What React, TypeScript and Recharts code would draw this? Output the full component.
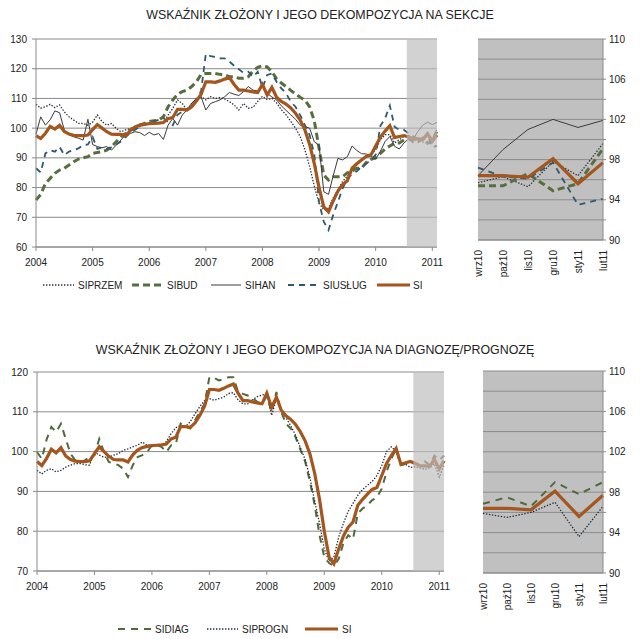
import React from 'react';
import { LineChart, Line, XAxis, YAxis, CartesianGrid, ReferenceArea } from 'recharts';

// ---- Data (monthly, Jan 2004 .. Feb 2011) ----
const YEAR_LABELS = ['2004', '2005', '2006', '2007', '2008', '2009', '2010', '2011'];
const YEAR_TICKS = [0, 12, 24, 36, 48, 60, 72, 84];
const MINI_LABELS = ['wrz10', 'paź10', 'lis10', 'gru10', 'sty11', 'lut11'];

const SI = [
  97.5, 96.5, 98.3, 100.6, 99.7, 101.0, 98.9, 98.0, 97.6, 97.5, 97.5, 97.7,
  99.5, 101.2, 100.0, 98.8, 98.0, 97.9, 97.9, 97.4, 99.2, 100.4, 101.0, 101.3,
  101.5, 101.6, 101.7, 101.9, 103.2, 103.6, 106.3, 106.3, 106.1, 107.2, 109.1, 111.4,
  115.6, 115.6, 115.4, 115.9, 116.5, 117.0, 114.7, 112.8, 112.8, 112.5, 112.2, 112.0,
  114.7, 111.1, 113.7, 110.4, 109.0, 108.1, 106.8, 105.0, 102.7, 99.4, 94.5, 88.0,
  80.0, 73.5, 71.8, 75.5, 78.8, 81.0, 82.3, 86.5, 88.0, 89.3, 90.5, 91.0,
  94.0, 97.0, 99.0, 100.8, 96.8, 97.2, 97.5, 97.0, 96.4, 96.4, 96.25, 98.1,
  95.6, 97.7,
];
const SIPRZEM = [
  108.0, 106.7, 107.2, 108.0, 106.9, 107.8, 105.5, 103.8, 102.7, 101.6, 101.6, 101.0,
  102.0, 104.4, 102.2, 101.0, 101.6, 99.9, 98.8, 99.4, 99.9, 100.5, 100.5, 101.0,
  101.5, 101.8, 101.8, 102.0, 104.4, 106.7, 109.5, 108.3, 106.1, 108.3, 110.0, 110.6,
  109.5, 110.6, 110.0, 110.3, 109.8, 108.9, 107.8, 106.1, 108.3, 106.7, 107.0, 109.0,
  110.7, 109.6, 110.0, 108.5, 106.2, 104.5, 102.3, 100.0, 97.2, 92.7, 87.1, 80.4,
  74.8, 72.5, 73.1, 76.5, 79.3, 82.1, 83.8, 86.0, 88.2, 89.6, 90.5, 91.1,
  92.7, 96.1, 97.8, 97.8, 95.0, 96.1, 97.2, 97.5, 95.7, 96.3, 95.3, 97.8,
  96.4, 99.6,
];
const SIBUD = [
  75.8, 77.7, 81.4, 83.1, 84.8, 85.9, 86.5, 87.6, 88.7, 89.6, 90.0, 90.4,
  91.5, 91.8, 92.1, 92.6, 93.7, 95.4, 97.1, 98.2, 99.4, 99.9, 101.0, 101.6,
  102.2, 102.5, 102.7, 103.8, 107.2, 109.5, 111.4, 112.3, 112.8, 114.0, 115.6, 118.1,
  118.4, 118.4, 118.4, 118.1, 117.9, 117.3, 117.3, 116.8, 116.8, 117.3, 119.2, 120.5,
  121.0, 120.6, 119.0, 116.6, 115.2, 114.0, 112.7, 111.5, 110.4, 109.4, 107.2, 102.4,
  93.2, 84.2, 82.5, 83.6, 83.6, 83.6, 85.0, 85.5, 86.5, 86.5, 88.5, 89.5,
  90.0, 91.5, 93.0, 94.0, 95.0, 95.0, 96.0, 96.5, 95.4, 95.4, 96.6, 94.9,
  95.6, 99.1,
];
const SIHAN = [
  98.0, 103.8, 101.0, 102.8, 105.8, 105.2, 99.4, 97.7, 97.1, 96.6, 96.0, 103.0,
  94.5, 93.8, 93.4, 93.8, 92.6, 94.3, 96.0, 97.7, 98.2, 98.8, 98.5, 97.5,
  98.6, 97.7, 98.2, 96.2, 101.0, 103.3, 101.0, 104.4, 106.1, 108.3, 110.0, 110.5,
  106.1, 108.3, 108.9, 109.5, 110.6, 112.0, 111.4, 111.0, 112.3, 114.0, 112.8, 112.5,
  114.5, 111.7, 110.5, 109.5, 107.5, 106.0, 104.5, 103.0, 101.0, 100.5, 100.0, 95.4,
  94.3, 78.6, 77.7, 84.0, 89.8, 89.3, 90.4, 94.0, 92.5, 91.4, 91.3, 90.5,
  89.6, 92.2, 95.5, 97.2, 93.9, 93.0, 95.0, 96.5, 96.4, 99.0, 101.0, 102.0,
  101.2, 101.9,
];
const SIUSLUG = [
  86.5, 85.1, 91.5, 92.6, 92.1, 93.7, 90.9, 92.1, 92.6, 93.2, 94.3, 94.5,
  97.0, 93.0, 93.5, 93.0, 93.5, 94.5, 95.5, 97.0, 98.5, 99.5, 100.5, 101.2,
  101.5, 102.3, 102.8, 103.4, 102.0, 101.0, 104.5, 105.5, 106.5, 107.5, 109.5, 112.5,
  125.0, 124.2, 124.0, 123.5, 123.5, 122.4, 121.0, 119.8, 118.6, 119.0, 117.3, 119.0,
  113.5, 117.9, 118.4, 115.6, 113.4, 111.7, 108.9, 107.2, 104.4, 101.0, 97.7, 91.0,
  75.0, 68.5, 65.7, 70.8, 75.2, 79.7, 83.1, 84.5, 85.5, 87.0, 88.0, 89.5,
  91.0, 100.8, 103.3, 107.6, 100.5, 99.4, 99.4, 98.2, 97.2, 96.3, 96.1, 97.7,
  93.5, 94.1,
];
const SIDIAG = [
  99.9, 98.2, 103.0, 106.2, 104.9, 107.0, 103.2, 99.5, 97.8, 97.4, 97.8, 98.6,
  99.1, 103.2, 99.9, 97.4, 97.0, 96.6, 95.7, 93.6, 96.6, 98.6, 99.1, 99.9,
  101.6, 101.6, 101.2, 99.9, 101.6, 102.0, 107.0, 106.2, 105.8, 107.9, 110.0, 112.0,
  118.7, 118.5, 117.9, 118.2, 118.7, 118.7, 115.0, 114.5, 114.1, 113.5, 112.5, 112.0,
  114.0, 110.0, 115.0, 110.0, 107.0, 105.8, 103.6, 100.5, 97.5, 92.5, 86.5, 79.0,
  73.5, 72.0, 71.3, 73.0, 77.0, 79.0, 78.0, 84.5, 85.7, 86.5, 87.8, 88.5,
  90.7, 94.9, 98.2, 100.7, 96.6, 97.0, 97.4, 97.0, 96.85, 97.5, 96.6, 99.0,
  97.8, 99.0,
];
const SIPROGN = [
  95.3, 94.4, 95.3, 95.7, 94.9, 95.3, 96.1, 96.6, 97.0, 97.0, 96.7, 96.6,
  99.9, 99.1, 98.6, 98.6, 99.1, 99.5, 100.3, 100.7, 101.2, 101.6, 102.4, 101.6,
  101.6, 101.6, 101.6, 102.5, 104.5, 106.0, 106.6, 106.3, 107.5, 109.5, 111.3, 112.8,
  113.3, 112.9, 113.3, 113.7, 114.6, 114.8, 113.0, 112.0, 112.0, 113.0, 113.8, 114.2,
  114.5, 109.1, 113.3, 110.8, 108.5, 106.5, 104.1, 101.0, 98.0, 93.5, 87.5, 82.0,
  75.5, 72.5, 73.5, 78.5, 82.0, 85.0, 87.0, 89.0, 90.5, 91.5, 92.5, 94.0,
  96.5, 100.0, 101.2, 100.0, 96.6, 96.8, 96.0, 96.2, 95.9, 95.5, 96.0, 97.0,
  93.6, 96.6,
];

const FORECAST_START = 78.6;
const LAST = 85;
const MINI_FROM = 80;

const topData = SI.map((v, i) => ({
  i, SI: v, SIPRZEM: SIPRZEM[i], SIBUD: SIBUD[i], SIHAN: SIHAN[i], SIUSLUG: SIUSLUG[i],
}));
const botData = SI.map((v, i) => ({ i, SI: v, SIDIAG: SIDIAG[i], SIPROGN: SIPROGN[i] }));
const topMini = MINI_LABELS.map((m, k) => ({ m, ...topData[MINI_FROM + k] }));
const botMini = MINI_LABELS.map((m, k) => ({ m, ...botData[MINI_FROM + k] }));

// ---- Styles ----
const FONT = '"Liberation Sans", Arial, sans-serif';
const NARROW = '"Liberation Sans Narrow", "Arial Narrow", "Liberation Sans", Arial, sans-serif';
const AX = '#8a8a8a';
const TXT = '#222';
const C = {
  SI: '#a4561e',
  SIPRZEM: '#2a2f3a',
  SIBUD: '#596e40',
  SIHAN: '#3a3a3a',
  SIUSLUG: '#2f5a6c',
  SIDIAG: '#4f6a3c',
  SIPROGN: '#1f2d3d',
};
const ST: Record<string, { w: number; d?: string }> = {
  SI: { w: 3.2 },
  SIPRZEM: { w: 1.3, d: '1.4 1.6' },
  SIBUD: { w: 3, d: '7 4' },
  SIHAN: { w: 1 },
  SIUSLUG: { w: 1.8, d: '6 5' },
  SIDIAG: { w: 2, d: '7 6' },
  SIPROGN: { w: 1.3, d: '1.4 1.6' },
};

const series = (keys: string[]) =>
  keys.map((k) => (
    <Line
      key={k}
      dataKey={k}
      type="linear"
      stroke={C[k as keyof typeof C]}
      strokeWidth={ST[k].w}
      strokeDasharray={ST[k].d}
      dot={false}
      activeDot={false}
      isAnimationActive={false}
    />
  ));

const RotTick = (props: any) => {
  const { x, y, payload } = props;
  return (
    <text
      x={x}
      y={y}
      transform={`rotate(-90 ${x} ${y})`}
      textAnchor="end"
      dominantBaseline="central"
      fontSize={10}
      fill={TXT}
      fontFamily={NARROW}
    >
      {payload.value}
    </text>
  );
};

const tickStyle = { fill: TXT, fontSize: 10, fontFamily: FONT };

function MainChart(props: {
  data: any[]; keys: string[]; width: number; height: number; top: number; yDomain: [number, number];
  yTicks: number[]; marginTop: number; yWidth: number;
}) {
  const { data, keys, width, height, top, yDomain, yTicks, marginTop, yWidth } = props;
  return (
    <div style={{ position: 'absolute', left: 0, top, width, height }}>
      <LineChart width={width} height={height} data={data} margin={{ top: marginTop, right: 8, left: 0, bottom: 0 }}>
        <CartesianGrid vertical={false} stroke={AX} strokeWidth={1} />
        <XAxis
          dataKey="i"
          type="number"
          domain={[0, LAST]}
          ticks={YEAR_TICKS}
          interval={0}
          tickFormatter={(v: number) => YEAR_LABELS[Math.round(v / 12)]}
          stroke={AX}
          tickSize={4}
          tickMargin={8}
          tick={tickStyle}
          height={24}
        />
        <YAxis
          domain={yDomain}
          ticks={yTicks}
          interval={0}
          width={yWidth}
          stroke={AX}
          tickSize={4}
          tickMargin={5}
          tick={tickStyle}
          allowDataOverflow
        />
        {series(keys)}
        <ReferenceArea
          x1={FORECAST_START}
          x2={LAST}
          fill="#bdbdbd"
          fillOpacity={0.68}
          stroke="none"
          ifOverflow="visible"
          {...({ zIndex: 900 } as any)}
        />
      </LineChart>
    </div>
  );
}

function MiniChart(props: { data: any[]; keys: string[]; left: number; top: number; width: number; plotH: number; marginLeft: number }) {
  const { data, keys, left, top, width, plotH, marginLeft } = props;
  const height = 9 + plotH + 45;
  return (
    <div style={{ position: 'absolute', left, top, width, height }}>
      <LineChart width={width} height={height} data={data} margin={{ top: 9, right: 0, left: marginLeft, bottom: 0 }}>
        <CartesianGrid vertical={false} stroke="#8c8c8c" fill="#c0c0c0" fillOpacity={1} />
        <XAxis dataKey="m" type="category" stroke={AX} tickLine={false} tickSize={4} tickMargin={6} tick={<RotTick />} height={45} interval={0} />
        <YAxis
          orientation="right"
          domain={[90, 110]}
          ticks={[90, 92, 94, 96, 98, 100, 102, 104, 106, 108, 110]}
          interval={0}
          tickFormatter={(v: number) => ((v - 90) % 4 === 0 ? String(v) : '')}
          width={30}
          stroke={AX}
          tickSize={3}
          tickMargin={3}
          tick={{ fill: TXT, fontSize: 10, fontFamily: NARROW }}
        />
        {series(keys)}
      </LineChart>
    </div>
  );
}

function Legend(props: { top: number; items: { k: string; label: string; x1: number; x2: number; tx: number }[] }) {
  return (
    <svg style={{ position: 'absolute', left: 0, top: props.top - 10, overflow: 'visible' }} width={640} height={20}>
      {props.items.map((it) => (
        <g key={it.k}>
          <line
            x1={it.x1}
            x2={it.x2}
            y1={10}
            y2={10}
            stroke={C[it.k as keyof typeof C]}
            strokeWidth={ST[it.k].w}
            strokeDasharray={ST[it.k].d}
          />
          <text x={it.tx} y={10} dominantBaseline="central" fontSize={10} fill={TXT} fontFamily={FONT}>
            {it.label}
          </text>
        </g>
      ))}
    </svg>
  );
}

const titleStyle: React.CSSProperties = {
  position: 'absolute',
  width: 640,
  textAlign: 'center',
  fontFamily: FONT,
  fontSize: 12.4,
  color: TXT,
  whiteSpace: 'nowrap',
};

export default function App() {
  return (
    <div style={{ position: 'absolute', left: 0, top: 0, width: 640, height: 639, background: '#fff', overflow: 'hidden' }}>
      <div style={{ ...titleStyle, top: 8, left: 0 }}>WSKAŹNIK ZŁOŻONY I JEGO DEKOMPOZYCJA NA SEKCJE</div>
      <MainChart
        data={topData}
        keys={['SIPRZEM', 'SIBUD', 'SIHAN', 'SIUSLUG', 'SI']}
        width={445}
        height={241}
        top={30}
        marginTop={9}
        yWidth={36}
        yDomain={[60, 130]}
        yTicks={[60, 70, 80, 90, 100, 110, 120, 130]}
      />
      <MiniChart data={topMini} keys={['SIPRZEM', 'SIBUD', 'SIHAN', 'SIUSLUG', 'SI']} left={470} top={30} width={163} plotH={201} marginLeft={8} />
      <Legend
        top={285}
        items={[
          { k: 'SIPRZEM', label: 'SIPRZEM', x1: 43, x2: 74, tx: 78 },
          { k: 'SIBUD', label: 'SIBUD', x1: 132, x2: 163, tx: 167 },
          { k: 'SIHAN', label: 'SIHAN', x1: 211, x2: 241, tx: 245 },
          { k: 'SIUSLUG', label: 'SIUSŁUG', x1: 288, x2: 321, tx: 323 },
          { k: 'SI', label: 'SI', x1: 377, x2: 410, tx: 413 },
        ]}
      />

      <div style={{ ...titleStyle, top: 343, left: -5 }}>WSKAŹNIK ZŁOŻONY I JEGO DEKOMPOZYCJA NA DIAGNOZĘ/PROGNOZĘ</div>
      <MainChart
        data={botData}
        keys={['SIDIAG', 'SIPROGN', 'SI']}
        width={452}
        height={233}
        top={362}
        marginTop={10}
        yWidth={37}
        yDomain={[70, 120]}
        yTicks={[70, 80, 90, 100, 110, 120]}
      />
      <MiniChart data={botMini} keys={['SIDIAG', 'SIPROGN', 'SI']} left={475} top={362} width={158} plotH={202} marginLeft={8} />
      <Legend
        top={629}
        items={[
          { k: 'SIDIAG', label: 'SIDIAG', x1: 118, x2: 152, tx: 155 },
          { k: 'SIPROGN', label: 'SIPROGN', x1: 207, x2: 238, tx: 242 },
          { k: 'SI', label: 'SI', x1: 305, x2: 338, tx: 342 },
        ]}
      />
    </div>
  );
}
